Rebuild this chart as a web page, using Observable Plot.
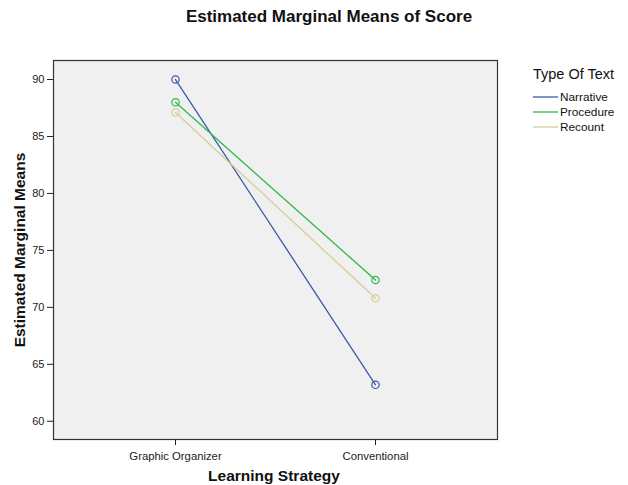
<!DOCTYPE html>
<html><head><meta charset="utf-8">
<script src="https://cdn.jsdelivr.net/npm/d3@7"></script>
<script src="https://cdn.jsdelivr.net/npm/@observablehq/plot@0.6"></script>
<style>
body{margin:0;background:#fff;font-family:"Liberation Sans",Arial,sans-serif;color:#111;}
#wrap{position:relative;width:628px;height:485px;overflow:hidden;}
#chart{position:absolute;left:0;top:0;}
.abs{position:absolute;white-space:nowrap;}
#title{left:329px;top:22.7px;transform:translate(-50%,-80%);font-weight:bold;font-size:17px;}
#xlab{left:274px;top:480.5px;transform:translate(-50%,-80%);font-weight:bold;font-size:15.5px;}
#ylab{left:20px;top:249.5px;transform:translate(-50%,-50%) rotate(-90deg);font-weight:bold;font-size:15.5px;}
#legend{left:533px;top:66px;}
#legend .lt{font-size:14.5px;line-height:17px;margin-bottom:6px;}
#legend .it{display:flex;align-items:center;height:15px;font-size:11.8px;}
#legend svg{display:block;margin-right:2px;}
</style>
</head><body>
<div id="wrap">
  <div id="chart"></div>
  <div class="abs" id="title">Estimated Marginal Means of Score</div>
  <div class="abs" id="xlab">Learning Strategy</div>
  <div class="abs" id="ylab">Estimated Marginal Means</div>
  <div class="abs" id="legend"></div>
</div>
<script>
const strategies = ["Graphic Organizer", "Conventional"];
const types = ["Narrative", "Procedure", "Recount"];
const narrative = [90.0, 63.2];
const procedure = [88.0, 72.4];
const recount = [87.1, 70.8];
const colors = ["#3E58AC", "#2EB848", "#D3CE97"];
const yTicks = [60, 65, 70, 75, 80, 85, 90];
const legendTitle = "Type Of Text";

const series = [narrative, procedure, recount];
const data = [];
types.forEach((t, i) => strategies.forEach((s, j) => data.push({type: t, strategy: s, mean: series[i][j]})));

const chart = Plot.plot({
  width: 628, height: 485,
  marginLeft: 53, marginRight: 131, marginTop: 60, marginBottom: 46,
  style: {fontFamily: "Liberation Sans, Arial, sans-serif", fontSize: "11px", color: "#222", background: "transparent"},
  x: {type: "point", domain: strategies, padding: 0.61, label: null},
  y: {domain: [58.4, 91.67], label: null},
  color: {domain: types, range: colors},
  marks: [
    Plot.frame({fill: "#f0f0f0", stroke: "#333", strokeWidth: 1.2}),
    Plot.axisY({ticks: yTicks, tickSize: 6, tickPadding: 3, fontSize: 11, label: null, stroke: "#222"}),
    Plot.axisX({tickSize: 6, tickPadding: 6, fontSize: 11.3, label: null, stroke: "#222"}),
    Plot.line(data, {x: "strategy", y: "mean", z: "type", stroke: "type", strokeWidth: 1.3}),
    Plot.dot(data, {x: "strategy", y: "mean", stroke: "type", r: 3.7, fill: "none", strokeWidth: 1.2})
  ]
});
document.getElementById("chart").appendChild(chart);

const leg = document.getElementById("legend");
const lt = document.createElement("div"); lt.className = "lt"; lt.textContent = legendTitle; leg.appendChild(lt);
const NS = "http://www.w3.org/2000/svg";
types.forEach((t, i) => {
  const it = document.createElement("div"); it.className = "it";
  const sw = document.createElementNS(NS, "svg"); sw.setAttribute("width", 25); sw.setAttribute("height", 4);
  const ln = document.createElementNS(NS, "line");
  ln.setAttribute("x1", 0); ln.setAttribute("x2", 25); ln.setAttribute("y1", 2); ln.setAttribute("y2", 2);
  ln.setAttribute("stroke", colors[i]); ln.setAttribute("stroke-width", 1.3);
  sw.appendChild(ln);
  const tx = document.createElement("span"); tx.textContent = t;
  it.appendChild(sw); it.appendChild(tx); leg.appendChild(it);
});
</script>
</body></html>
